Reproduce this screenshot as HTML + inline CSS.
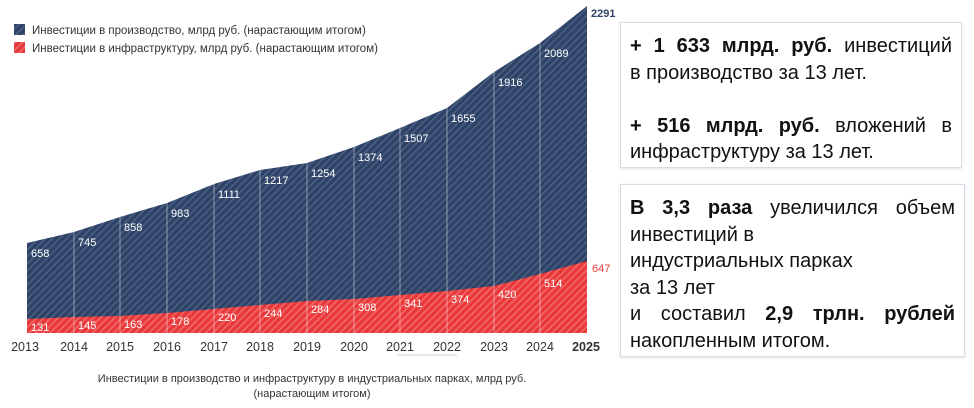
<!DOCTYPE html>
<html><head><meta charset="utf-8"><style>
body{margin:0;width:974px;height:408px;background:#fff;overflow:hidden;font-family:"Liberation Sans","Noto Sans CJK SC",sans-serif;}
.box{position:absolute;border:1px solid #d5dde8;box-shadow:0 1px 3px rgba(0,0,0,0.12);background:#fff;color:#111;font-size:20px;line-height:26.5px;padding:10px 9px 0 9px;box-sizing:border-box;}
.j{text-align:justify;text-align-last:justify;}
b{font-weight:bold;}
</style></head><body>
<svg width="620" height="408" style="position:absolute;left:0;top:0" font-family="Liberation Sans, sans-serif">
<defs>
<pattern id="pb" width="5" height="5" patternUnits="userSpaceOnUse" patternTransform="rotate(45)">
<rect width="5" height="5" fill="#2d4266"/><rect width="1.6" height="5" fill="#4a5f82"/></pattern>
<pattern id="pr" width="5" height="5" patternUnits="userSpaceOnUse" patternTransform="rotate(45)">
<rect width="5" height="5" fill="#e8383a"/><rect width="1.6" height="5" fill="#f26a6a"/></pattern>
</defs>
<rect x="14" y="24" width="11" height="11" fill="url(#pb)"/>
<text x="32" y="34" font-size="11.5" fill="#333">Инвестиции в производство, млрд руб. (нарастающим итогом)</text>
<rect x="14" y="42" width="11" height="11" fill="url(#pr)"/>
<text x="32" y="52" font-size="11.5" fill="#333">Инвестиции в инфраструктуру, млрд руб. (нарастающим итогом)</text>
<path d="M27,333 L27,243 L74,232 L120,217 L167,203 L214,184 L260,170 L307,163 L354,147 L400,128 L447,108 L494,72 L540,43 L587,6 L587,333 Z" fill="url(#pb)"/>
<path d="M27,333 L27,319 L74,317 L120,316 L167,313 L214,309 L260,305 L307,301 L354,299 L400,295 L447,291 L494,286 L540,274 L587,261 L587,333 Z" fill="url(#pr)"/>
<g stroke="#ffffff" stroke-opacity="0.45" stroke-width="1">
<line x1="74" y1="232" x2="74" y2="333"/><line x1="120" y1="217" x2="120" y2="333"/><line x1="167" y1="203" x2="167" y2="333"/><line x1="214" y1="184" x2="214" y2="333"/><line x1="260" y1="170" x2="260" y2="333"/><line x1="307" y1="163" x2="307" y2="333"/><line x1="354" y1="147" x2="354" y2="333"/><line x1="400" y1="128" x2="400" y2="333"/><line x1="447" y1="108" x2="447" y2="333"/><line x1="494" y1="72" x2="494" y2="333"/><line x1="540" y1="43" x2="540" y2="333"/>
</g>
<g font-size="11" fill="#fff">
<text x="31" y="257">658</text><text x="78" y="246">745</text><text x="124" y="231">858</text><text x="171" y="217">983</text><text x="218" y="198">1111</text><text x="264" y="184">1217</text><text x="311" y="177">1254</text><text x="358" y="161">1374</text><text x="404" y="142">1507</text><text x="451" y="122">1655</text><text x="498" y="86">1916</text><text x="544" y="57">2089</text>
<text x="31" y="331">131</text><text x="78" y="329">145</text><text x="124" y="328">163</text><text x="171" y="325">178</text><text x="218" y="321">220</text><text x="264" y="317">244</text><text x="311" y="313">284</text><text x="358" y="311">308</text><text x="404" y="307">341</text><text x="451" y="303">374</text><text x="498" y="298">420</text><text x="544" y="287">514</text>
</g>
<text x="591" y="17" font-size="11" font-weight="bold" fill="#2d4266">2291</text>
<text x="592" y="272" font-size="11" fill="#e8383a">647</text>
<g font-size="12.5" fill="#333" text-anchor="middle">
<text x="25" y="351">2013</text><text x="74" y="351">2014</text><text x="120" y="351">2015</text><text x="167" y="351">2016</text><text x="214" y="351">2017</text><text x="260" y="351">2018</text><text x="307" y="351">2019</text><text x="354" y="351">2020</text><text x="400" y="351">2021</text><text x="447" y="351">2022</text><text x="494" y="351">2023</text><text x="540" y="351">2024</text><text x="586" y="351" font-weight="bold">2025</text>
</g>
<line x1="397" y1="355" x2="457" y2="355" stroke="#ccc" stroke-width="1"/>
<g font-size="11" fill="#333" text-anchor="middle">
<text x="312" y="382">Инвестиции в производство и инфраструктуру в индустриальных парках, млрд руб.</text>
<text x="312" y="397">(нарастающим итогом)</text>
</g>
</svg>
<div class="box" style="left:620px;top:22px;width:342px;height:146px;">
<div class="j"><b>+ 1 633 млрд. руб.</b> инвестиций</div>
<div>в производство за 13 лет.</div>
<div>&nbsp;</div>
<div class="j"><b>+ 516 млрд. руб.</b> вложений в</div>
<div>инфраструктуру за 13 лет.</div>
</div>
<div class="box" style="left:620px;top:184px;width:345px;height:173px;">
<div class="j"><b>В 3,3 раза</b> увеличился объем</div>
<div>инвестиций в</div>
<div>индустриальных парках</div>
<div>за 13 лет</div>
<div class="j">и составил <b>2,9 трлн. рублей</b></div>
<div>накопленным итогом.</div>
</div>
</body></html>
